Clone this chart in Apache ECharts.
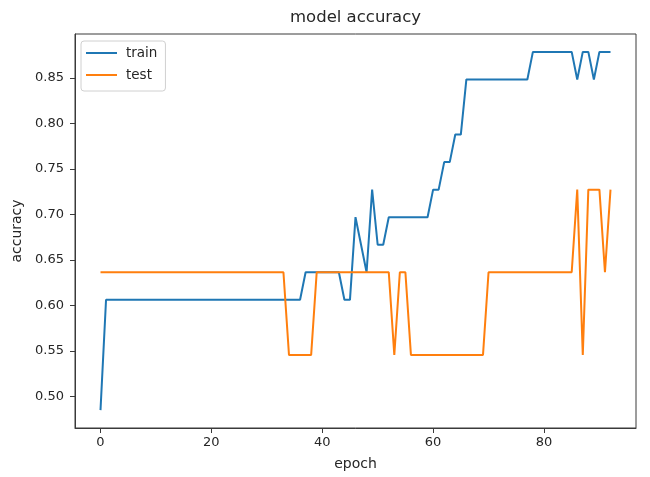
<!DOCTYPE html>
<html>
<head>
<meta charset="utf-8">
<script src="https://cdn.jsdelivr.net/npm/echarts@6/dist/echarts.min.js"></script>
<style>
html,body{margin:0;padding:0;background:#fff;}
#chart{width:650px;height:477px;}
</style>
</head>
<body>
<div id="chart"></div>
<script>
const seriesNames = ['train', 'test'];
const xTicks = [0, 20, 40, 60, 80];
const yTicks = [0.50, 0.55, 0.60, 0.65, 0.70, 0.75, 0.80, 0.85];

const trainAcc = [
  0.4848, 0.6061, 0.6061, 0.6061, 0.6061, 0.6061, 0.6061, 0.6061, 0.6061, 0.6061,
  0.6061, 0.6061, 0.6061, 0.6061, 0.6061, 0.6061, 0.6061, 0.6061, 0.6061, 0.6061,
  0.6061, 0.6061, 0.6061, 0.6061, 0.6061, 0.6061, 0.6061, 0.6061, 0.6061, 0.6061,
  0.6061, 0.6061, 0.6061, 0.6061, 0.6061, 0.6061, 0.6061, 0.6364, 0.6364, 0.6364,
  0.6364, 0.6364, 0.6364, 0.6364, 0.6061, 0.6061, 0.6970, 0.6667, 0.6364, 0.7273,
  0.6667, 0.6667, 0.6970, 0.6970, 0.6970, 0.6970, 0.6970, 0.6970, 0.6970, 0.6970,
  0.7273, 0.7273, 0.7576, 0.7576, 0.7879, 0.7879, 0.8485, 0.8485, 0.8485, 0.8485,
  0.8485, 0.8485, 0.8485, 0.8485, 0.8485, 0.8485, 0.8485, 0.8485, 0.8788, 0.8788,
  0.8788, 0.8788, 0.8788, 0.8788, 0.8788, 0.8788, 0.8485, 0.8788, 0.8788, 0.8485,
  0.8788, 0.8788, 0.8788
];

const testAcc = [
  0.6364, 0.6364, 0.6364, 0.6364, 0.6364, 0.6364, 0.6364, 0.6364, 0.6364, 0.6364,
  0.6364, 0.6364, 0.6364, 0.6364, 0.6364, 0.6364, 0.6364, 0.6364, 0.6364, 0.6364,
  0.6364, 0.6364, 0.6364, 0.6364, 0.6364, 0.6364, 0.6364, 0.6364, 0.6364, 0.6364,
  0.6364, 0.6364, 0.6364, 0.6364, 0.5455, 0.5455, 0.5455, 0.5455, 0.5455, 0.6364,
  0.6364, 0.6364, 0.6364, 0.6364, 0.6364, 0.6364, 0.6364, 0.6364, 0.6364, 0.6364,
  0.6364, 0.6364, 0.6364, 0.5455, 0.6364, 0.6364, 0.5455, 0.5455, 0.5455, 0.5455,
  0.5455, 0.5455, 0.5455, 0.5455, 0.5455, 0.5455, 0.5455, 0.5455, 0.5455, 0.5455,
  0.6364, 0.6364, 0.6364, 0.6364, 0.6364, 0.6364, 0.6364, 0.6364, 0.6364, 0.6364,
  0.6364, 0.6364, 0.6364, 0.6364, 0.6364, 0.6364, 0.7273, 0.5455, 0.7273, 0.7273,
  0.7273, 0.6364, 0.7273
];

const FONT = 'DejaVu Sans';
const TXT = '#262626';
const AX = '#3a3a3a';
const chart = echarts.init(document.getElementById('chart'), null, {renderer: 'canvas'});

chart.setOption({
  animation: false,
  backgroundColor: '#ffffff',
  title: {
    text: 'model accuracy',
    left: 290, top: 9, padding: 0,
    textStyle: {fontFamily: FONT, fontSize: 16.5, fontWeight: 'normal', color: TXT}
  },
  legend: {
    data: seriesNames,
    orient: 'vertical',
    left: 81, top: 41,
    padding: [5, 8, 9, 5],
    itemGap: 8,
    icon: 'rect',
    itemWidth: 31, itemHeight: 2,
    borderColor: '#d0d0d0', borderWidth: 1, borderRadius: 3,
    backgroundColor: '#ffffff',
    textStyle: {fontFamily: FONT, fontSize: 13.5, color: TXT, padding: [0, 0, 0, 4]}
  },
  grid: {
    left: 75, right: 14, top: 34, bottom: 49,
    show: true, borderColor: AX, borderWidth: 1, backgroundColor: 'transparent'
  },
  xAxis: {
    type: 'value', min: -4.6, max: 96.6,
    name: 'epoch', nameLocation: 'middle', nameGap: 29,
    nameTextStyle: {fontFamily: FONT, fontSize: 14, color: TXT},
    axisLine: {show: true, onZero: false, lineStyle: {color: AX, width: 1}},
    axisTick: {show: true, length: 5, lineStyle: {color: AX}, customValues: xTicks},
    axisLabel: {fontFamily: FONT, fontSize: 13, color: TXT, margin: 8, customValues: xTicks},
    splitLine: {show: false}
  },
  yAxis: {
    type: 'value', min: 0.4651, max: 0.8985,
    name: 'accuracy', nameLocation: 'middle', nameGap: 49, nameRotate: 90,
    nameTextStyle: {fontFamily: FONT, fontSize: 14, color: TXT},
    axisLine: {show: true, onZero: false, lineStyle: {color: AX, width: 1}},
    axisTick: {show: true, length: 5, lineStyle: {color: AX}, customValues: yTicks},
    axisLabel: {fontFamily: FONT, fontSize: 13, color: TXT, margin: 11, customValues: yTicks,
      formatter: v => v.toFixed(2)},
    splitLine: {show: false}
  },
  series: [
    {
      name: seriesNames[0], type: 'line', symbol: 'none',
      data: trainAcc.map((v, i) => [i, v]),
      lineStyle: {color: '#1f77b4', width: 2},
      itemStyle: {color: '#1f77b4'},
      z: 2
    },
    {
      name: seriesNames[1], type: 'line', symbol: 'none',
      data: testAcc.map((v, i) => [i, v]),
      lineStyle: {color: '#ff7f0e', width: 2},
      itemStyle: {color: '#ff7f0e'},
      z: 3
    }
  ]
});
</script>
</body>
</html>
